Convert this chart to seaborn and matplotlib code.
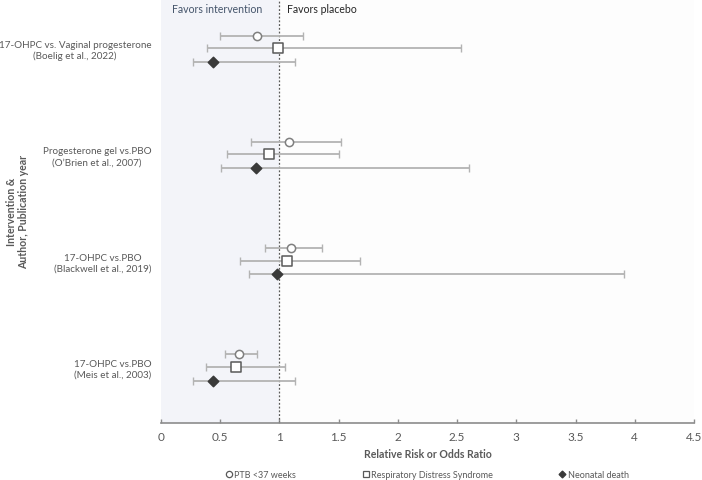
import numpy as np
import pandas as pd
import matplotlib
matplotlib.use("Agg")
import matplotlib.pyplot as plt
import seaborn as sns
from matplotlib.lines import Line2D

sns.set_theme(style="white")
plt.rcParams['font.family'] = ['Lato', 'DejaVu Sans']

studies = [
    "17-OHPC vs. Vaginal progesterone\n(Boelig et al., 2022)",
    "Progesterone gel vs.PBO\n(O\u2019Brien et al., 2007)",
    "17-OHPC vs.PBO\n(Blackwell et al., 2019)",
    "17-OHPC vs.PBO\n(Meis et al., 2003)",
]
outcomes = ["PTB <37 weeks", "Respiratory Distress Syndrome", "Neonatal death"]

ptb_est = [0.81, 1.08, 1.10, 0.66]
ptb_lo = [0.50, 0.76, 0.88, 0.54]
ptb_hi = [1.20, 1.52, 1.36, 0.81]

rds_est = [0.99, 0.91, 1.06, 0.63]
rds_lo = [0.39, 0.56, 0.67, 0.38]
rds_hi = [2.53, 1.50, 1.68, 1.05]

nd_est = [0.44, 0.80, 0.98, 0.44]
nd_lo = [0.27, 0.51, 0.74, 0.27]
nd_hi = [1.13, 2.60, 3.91, 1.13]

offsets = {outcomes[0]: -0.12, outcomes[1]: 0.0, outcomes[2]: 0.13}

rows = []
for oc, est, lo, hi in [(outcomes[0], ptb_est, ptb_lo, ptb_hi),
                        (outcomes[1], rds_est, rds_lo, rds_hi),
                        (outcomes[2], nd_est, nd_lo, nd_hi)]:
    for i, s in enumerate(studies):
        rows.append(dict(study=s, outcome=oc, est=est[i], lo=lo[i], hi=hi[i],
                         y=i + offsets[oc]))
df = pd.DataFrame(rows)

fig = plt.figure(figsize=(7.02, 4.81), dpi=100)
ax = fig.add_axes([0.2293, 0.1185, 0.7593, 0.8805])
ax.set_facecolor("#fdfdfd")

ax.axvspan(0, 1, color="#f3f4f9", zorder=0, lw=0)
ax.axvline(1, color="#595959", ls=(0, (1.5, 1.5)), lw=0.9, zorder=1)

# error bars
ax.errorbar(df["est"], df["y"], xerr=[df["est"] - df["lo"], df["hi"] - df["est"]],
            fmt="none", ecolor="#b3b3b3", elinewidth=1.3, capsize=3, capthick=1.0, zorder=2)

markers = {outcomes[0]: "o", outcomes[1]: "s", outcomes[2]: "D"}
sizes = {outcomes[0]: 35, outcomes[1]: 55, outcomes[2]: 28}
faces = {outcomes[0]: "white", outcomes[1]: "white", outcomes[2]: "#3a3a3a"}
edges = {outcomes[0]: "#7f7f7f", outcomes[1]: "#595959", outcomes[2]: "#3a3a3a"}
for oc in outcomes:
    sub = df[df["outcome"] == oc]
    sns.scatterplot(data=sub, x="est", y="y", marker=markers[oc], s=sizes[oc],
                    color=faces[oc], edgecolor=edges[oc], linewidth=1.1,
                    ax=ax, zorder=3, legend=False)

ax.set_xlim(0, 4.5)
ax.set_ylim(3.53, -0.46)
ax.set_xticks(np.arange(0, 4.51, 0.5))
ax.set_xticklabels(["0", "0.5", "1", "1.5", "2", "2.5", "3", "3.5", "4", "4.5"])
ax.set_yticks(range(len(studies)))
ax.set_yticklabels(studies, multialignment="center", linespacing=1.25)
for sp in ["top", "right", "left"]:
    ax.spines[sp].set_visible(False)
ax.spines["bottom"].set_color("#8c8c8c")
ax.spines["bottom"].set_linewidth(1.2)
ax.tick_params(axis="x", colors="#8c8c8c", labelcolor="#595959", labelsize=8.5,
               direction="in", length=3, width=1.0, pad=6, bottom=True)
ax.tick_params(axis="y", length=0, labelcolor="#595959", labelsize=7.1, pad=7)

ax.set_xlabel("Relative Risk or Odds Ratio", fontsize=7.6, fontweight="bold",
              color="#595959", labelpad=4)
ax.set_ylabel("Intervention &\nAuthor, Publication year", fontsize=7.6,
              fontweight="bold", color="#595959", linespacing=1.15)
ax.yaxis.set_label_coords(-0.247, 0.5)

ax.text(0.47, -0.372, "Favors intervention", ha="center", va="center",
        fontsize=7.6, color="#44546a")
ax.text(1.06, -0.372, "Favors placebo", ha="left", va="center",
        fontsize=7.6, color="#262626")

handles = [
    Line2D([], [], marker="o", ls="none", mfc="white", mec="#595959", ms=4.5, mew=0.9),
    Line2D([], [], marker="s", ls="none", mfc="white", mec="#595959", ms=5, mew=0.9),
    Line2D([], [], marker="D", ls="none", mfc="#3a3a3a", mec="#3a3a3a", ms=3.5, mew=0.9),
]
fig.legend(handles, outcomes, loc="center", bbox_to_anchor=(0.609, 0.011), ncol=3,
           frameon=False, fontsize=6.5, handlelength=0.6, handletextpad=0.3,
           columnspacing=7.4, labelcolor="#595959")

fig.savefig("out.png", dpi=100)
